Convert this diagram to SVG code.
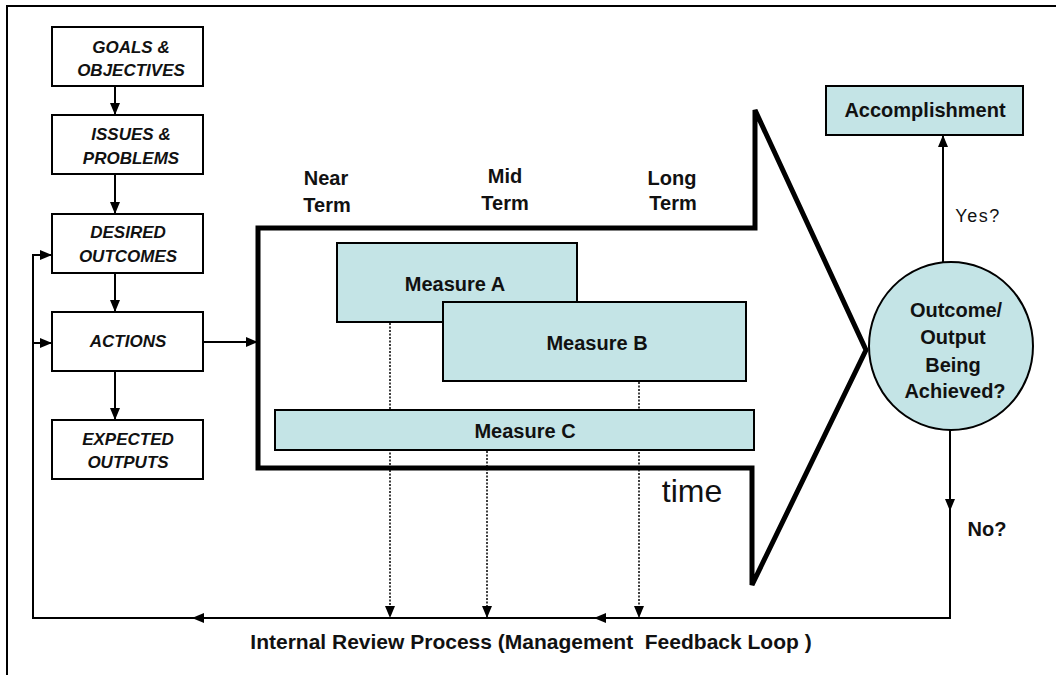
<svg xmlns="http://www.w3.org/2000/svg" width="1056" height="675" viewBox="0 0 1056 675">
<defs>
<marker id="ahs" markerWidth="12" markerHeight="12" refX="11" refY="6" orient="auto" markerUnits="userSpaceOnUse">
<path d="M0,1 L12,6 L0,11 z" fill="#000"/>
</marker>
<style>
.box{fill:#fff;stroke:#000;stroke-width:2}
.meas{fill:#c4e4e6;stroke:#000;stroke-width:2}
.bi{font-family:"Liberation Sans",Arial,sans-serif;font-weight:bold;font-style:italic;font-size:17px;text-anchor:middle;fill:#111}
.b{font-family:"Liberation Sans",Arial,sans-serif;font-weight:bold;font-size:20px;text-anchor:middle;fill:#111}
.ln{stroke:#000;stroke-width:2;fill:none}
.dot{stroke:#000;stroke-width:1.5;fill:none;stroke-dasharray:2,1.5}
</style>
</defs>
<rect width="1056" height="675" fill="#fff"/>
<path d="M7,675 L7,6 L1056,6" fill="none" stroke="#000" stroke-width="2"/>

<g id="bigarrow">
<path d="M258,228 L755,228 L755,110 L866,350 L752,585 L752,468 L258,468 Z" fill="none" stroke="#000" stroke-width="5" stroke-linejoin="miter"/>
<text x="326" y="185" class="b">Near</text>
<text x="327" y="212" class="b">Term</text>
<text x="505" y="183" class="b">Mid</text>
<text x="505" y="210" class="b">Term</text>
<text x="672" y="185" class="b">Long</text>
<text x="673" y="210" class="b">Term</text>
<text x="692" y="502" font-family="Liberation Sans,Arial,sans-serif" font-size="32" text-anchor="middle" fill="#111">time</text>
</g>

<g id="connectors">
<line x1="115" y1="86" x2="115" y2="114" class="ln" marker-end="url(#ahs)"/>
<line x1="115" y1="174" x2="115" y2="213" class="ln" marker-end="url(#ahs)"/>
<line x1="115" y1="273" x2="115" y2="311" class="ln" marker-end="url(#ahs)"/>
<line x1="115" y1="371" x2="115" y2="419" class="ln" marker-end="url(#ahs)"/>
<line x1="203" y1="342" x2="257" y2="342" class="ln" marker-end="url(#ahs)"/>
<path d="M950,430 L950,618 L33,618 L33,255 L51,255" class="ln" marker-end="url(#ahs)"/>
<line x1="33" y1="343" x2="51" y2="343" class="ln" marker-end="url(#ahs)"/>
<line x1="950" y1="430" x2="950" y2="510" class="ln" marker-end="url(#ahs)"/>
<line x1="400" y1="618" x2="193" y2="618" class="ln" marker-end="url(#ahs)"/>
<line x1="800" y1="618" x2="595" y2="618" class="ln" marker-end="url(#ahs)"/>
<line x1="943" y1="263" x2="943" y2="136" class="ln" marker-end="url(#ahs)"/>
<line x1="390" y1="323" x2="390" y2="617" class="dot" marker-end="url(#ahs)"/>
<line x1="487" y1="451" x2="487" y2="617" class="dot" marker-end="url(#ahs)"/>
<line x1="639" y1="382" x2="639" y2="617" class="dot" marker-end="url(#ahs)"/>
<text x="978" y="222" font-family="Liberation Sans,Arial,sans-serif" font-size="18" letter-spacing="1.5" text-anchor="middle" fill="#111">Yes?</text>
<text x="987" y="536" class="b">No?</text>
<text x="531" y="649" class="b" xml:space="preserve" style="font-size:21px">Internal Review Process (Management  Feedback Loop )</text>
</g>

<g id="goals">
<rect x="52" y="27" width="151" height="59" class="box"/>
<text x="131" y="53" class="bi">GOALS &amp;</text>
<text x="131" y="76" class="bi">OBJECTIVES</text>
</g>
<g id="issues">
<rect x="52" y="115" width="151" height="59" class="box"/>
<text x="131" y="140" class="bi">ISSUES &amp;</text>
<text x="131" y="164" class="bi">PROBLEMS</text>
</g>
<g id="desired">
<rect x="52" y="214" width="151" height="59" class="box"/>
<text x="128" y="238" class="bi">DESIRED</text>
<text x="128" y="262" class="bi">OUTCOMES</text>
</g>
<g id="actions">
<rect x="52" y="312" width="151" height="59" class="box"/>
<text x="128" y="347" class="bi">ACTIONS</text>
</g>
<g id="expected">
<rect x="52" y="420" width="151" height="59" class="box"/>
<text x="128" y="445" class="bi">EXPECTED</text>
<text x="128" y="468" class="bi">OUTPUTS</text>
</g>

<g id="measureA">
<rect x="337" y="243" width="240" height="79" class="meas"/>
<text x="455" y="291" class="b">Measure A</text>
</g>
<g id="measureB">
<rect x="443" y="302" width="303" height="79" class="meas"/>
<text x="597" y="350" class="b">Measure B</text>
</g>
<g id="measureC">
<rect x="275" y="410" width="479" height="40" class="meas"/>
<text x="525" y="438" class="b">Measure C</text>
</g>

<g id="accomplishment">
<rect x="826" y="86" width="197" height="49" class="meas"/>
<text x="925" y="117" class="b">Accomplishment</text>
</g>
<g id="decision">
<ellipse cx="951" cy="346" rx="82" ry="84" class="meas"/>
<text x="956" y="317" class="b">Outcome/</text>
<text x="953" y="344" class="b">Output</text>
<text x="953" y="372" class="b">Being</text>
<text x="955" y="398" class="b">Achieved?</text>
</g>
</svg>
